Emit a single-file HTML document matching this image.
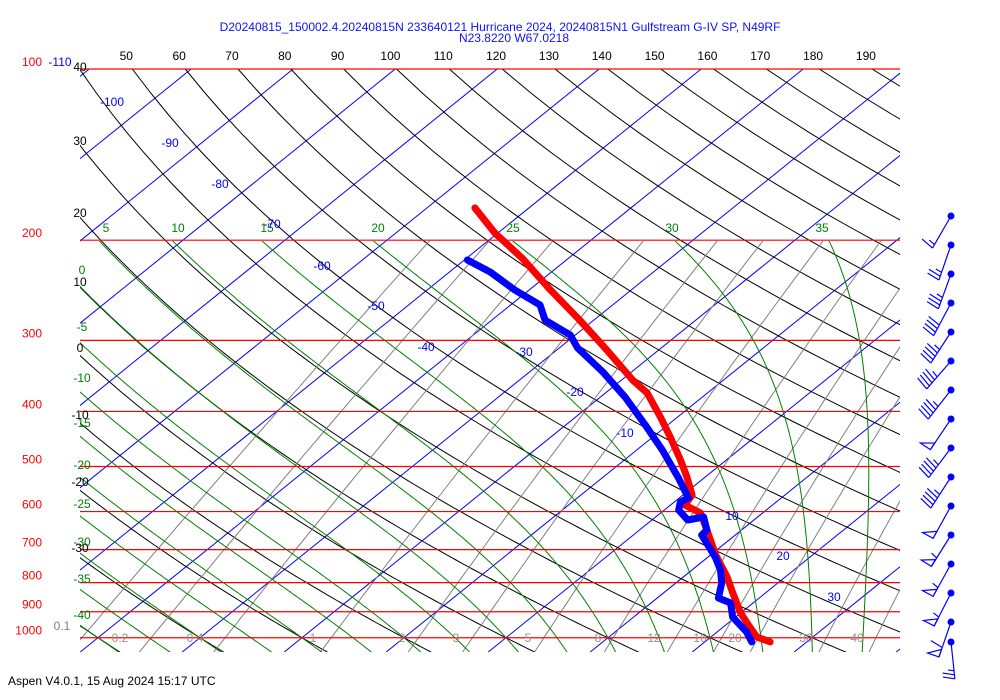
<!DOCTYPE html>
<html><head><meta charset="utf-8"><style>
html,body{margin:0;padding:0;background:#fff;}
svg{display:block;font-family:"Liberation Sans",sans-serif;font-size:12px;}
</style></head><body>
<svg id="chart" width="1000" height="700" viewBox="0 0 1000 700">
<defs><clipPath id="plotclip"><rect x="80" y="69" width="820" height="583"/></clipPath><clipPath id="upperclip"><rect x="80" y="241" width="820" height="411"/></clipPath></defs>
<text x="500" y="31" text-anchor="middle" fill="#1010ff">D20240815_150002.4.20240815N 233640121 Hurricane 2024, 20240815N1 Gulfstream G-IV SP, N49RF</text>
<text x="514" y="42" text-anchor="middle" fill="#1010ff">N23.8220 W67.0218</text>
<g id="grid" clip-path="url(#plotclip)"></g>
<g id="upper" clip-path="url(#upperclip)"></g>
<g id="plines"></g>
<g id="labels"></g>
<g id="traces" clip-path="url(#plotclip)"></g>
<g id="barbs"></g>
<text x="8" y="685" fill="#000">Aspen V4.0.1, 15 Aug 2024  15:17 UTC</text>
</svg>
<script>
// ---- data ----
const pressureLevels=[100,200,300,400,500,600,700,800,900,1000];
const isotherms=[-120,-110,-100,-90,-80,-70,-60,-50,-40,-30,-20,-10,0,10,20,30,40,50];
const dryThetas=[-40,-30,-20,-10,0,10,20,30,40,50,60,70,80,90,100,110,120,130,140,150,160,170,180,190,200,210];
const topThetaLabels=[50,60,70,80,90,100,110,120,130,140,150,160,170,180,190];
const moistThetaW=[-40,-35,-30,-25,-20,-15,-10,-5,0,5,10,15,20,25,30,35];
const mixRatios=[0.1,0.2,0.4,1,2,3,5,8,12,16,20,30,40];
const tempP=[175.5,194.2,214.9,244.7,276.3,311.9,352.3,371.3,409.1,443.7,486.9,521.6,561.1,584.3,603.4,646.4,715.3,782.0,834.4,904.7,957.5,997,1017];
const tempT=[-55.3,-50.3,-44.6,-37.9,-31.4,-25.1,-18.9,-15.9,-11.7,-8.3,-4.5,-1.8,0.9,1.4,3.9,6.6,10.5,14.3,16.8,20.0,22.6,24.5,26.4];
const dewP=[216.7,227.5,244.7,260,276.3,293.6,309.4,341.0,377.3,422.6,467.6,523.8,568.0,577.2,596.1,620.8,613.3,646.4,659.6,721.2,760.1,801.2,851.4,868.8,919.4,977.1,1017];
const dewT=[-49.7,-46.0,-41.4,-37.1,-34.8,-30.5,-28.2,-22.8,-17.6,-12.2,-7.5,-2.5,0.9,0.6,1.4,3.5,4.7,6.6,6.7,10.7,12.8,14.5,16.0,17.8,19.7,22.9,24.6];
const barbY=[216,245,274,303,332,361,390,419,448,477,506,535,564,593,622,642];
const barbAngle=[30,19,20,28,33,41,38,34,37,33,29,32,29,27,19,-6];
const barbSpeed=[15,25,35,40,45,45,45,50,45,45,50,55,55,55,60,25];

const NS="http://www.w3.org/2000/svg";
function Y(p){return 69+247*Math.log(p/100);}
function X(T,p){return 506+10.2*T+1.24*(637.7-Y(p));}
function mk(tag,attrs,parent){const e=document.createElementNS(NS,tag);for(const k in attrs)e.setAttribute(k,attrs[k]);parent.appendChild(e);return e;}
function pathFrom(pts){return pts.map((q,i)=>(i?'L':'M')+q[0].toFixed(1)+' '+q[1].toFixed(1)).join(' ');}
const grid=document.getElementById('grid'),upper=document.getElementById('upper');

// isotherms
isotherms.forEach(t=>{
 const e=mk('line',{x1:X(t,100),y1:Y(100),x2:X(t,1060),y2:Y(1060),stroke:'#0000ff','stroke-width':1},grid);
 
 
});
// dry adiabats
dryThetas.forEach(th=>{
 const pts=[];for(let p=100;p<=1060;p+=10){const T=(th+273.15)*Math.pow(p/1000,0.2857)-273.15;pts.push([X(T,p),Y(p)]);}
 const e=mk('path',{d:pathFrom(pts),fill:'none',stroke:'#000','stroke-width':1},grid);
 
 
});
// mixing ratio
mixRatios.forEach(w=>{
 const pts=[];for(let p=200;p<=1060;p+=20){const e=w*p/(622+w);const l=Math.log(e/6.112);const Td=243.5*l/(17.67-l);pts.push([X(Td,p),Y(p)]);}
 const e=mk('path',{d:pathFrom(pts),fill:'none',stroke:'#808080','stroke-width':1},upper);
 
 
});
// moist adiabats
function dTdp(T,p){const Tc=T-273.15;const es=6.112*Math.exp(17.67*Tc/(Tc+243.5));const rs=0.622*es/(p-es);
 return (287*T+2.5e6*rs)/(p*(1005+2.5e6*2.5e6*rs*0.622/(287*T*T)));}
moistThetaW.forEach(tw=>{
 const up=[];let T=tw+273.15;
 for(let p=1000;p>=195;p-=2){up.push([X(T-273.15,p),Y(p)]);const k1=dTdp(T,p);const k2=dTdp(T-k1,p-2);T-=k1+ (k2-k1)/2; T=T- (k1+k2)/2 + (k1+k2)/2; }
 // recompute properly with RK2
 const pts=[];T=tw+273.15;
 for(let p=1000;p>=198;p-=2){pts.push([X(T-273.15,p),Y(p)]);const k1=dTdp(T,p);const k2=dTdp(T-2*k1,p-2);T-=(k1+k2);}
 const down=[];T=tw+273.15;
 for(let p=1000;p<=1060;p+=2){const k1=dTdp(T,p);const k2=dTdp(T+2*k1,p+2);T+=(k1+k2);down.push([X(T-273.15,p+2),Y(p+2)]);}
 const all=pts.reverse().concat(down);
 const e=mk('path',{d:pathFrom(all),fill:'none',stroke:'#008000','stroke-width':1},upper);
 
 
});
// pressure lines
const pl=document.getElementById('plines'),lab=document.getElementById('labels');
pressureLevels.forEach(p=>{
 const e=mk('line',{x1:80,y1:Y(p),x2:900,y2:Y(p),stroke:'#ff0000','stroke-width':1.2},pl);
 
 
 const t=mk('text',{x:42,y:Y(p)-3,'text-anchor':'end',fill:'#ff0000'},lab);t.textContent=p;
 
 
});
function txt(s,x,y,c,anchor){const t=mk('text',{x:x,y:y+4,'text-anchor':anchor||'middle',fill:c},lab);t.textContent=s;
 
 return t;}
// top theta labels
topThetaLabels.forEach(th=>{const T=(th+273.15)*0.51795-273.15;txt(th,X(T,100)-6,56,'#000');});
// left dry labels
[[40,67],[30,141],[20,213],[10,282],[0,348],[-10,415],[-20,482],[-30,548]].forEach(a=>txt(a[0],80,a[1],'#000'));
// left moist labels
[[0,270],[-5,327],[-10,378],[-15,423],[-20,465],[-25,504],[-30,542],[-35,579],[-40,615]].forEach(a=>txt(a[0],82,a[1],'#008000'));
// moist labels at 200
[[5,106],[10,178],[15,267],[20,378],[25,513],[30,672],[35,822]].forEach(a=>txt(a[0],a[1],228,'#008000'));
// isotherm labels
[[-110,60,62],[-100,112,102],[-90,170,143],[-80,220,184],[-70,272,224],[-60,322,266],[-50,376,306],[-40,426,347],[-30,524,352],[-20,575,392],[-10,625,433],[0,686,474],[10,732,516],[20,783,556],[30,834,597]].forEach(a=>txt(a[0],a[1],a[2],'#0000ff'));
// mixing labels
txt('0.1',62,626,'#808080');
[[0.2,120],[0.4,195],[1,313],[2,402],[3,456],[5,528],[8,598],[12,654],[16,700],[20,735],[30,806],[40,857]].forEach(a=>txt(a[0],a[1],638,'#909090'));

// traces
const tr=document.getElementById('traces');
function trace(P,T,color,name){
 const pts=P.map((p,i)=>[X(T[i],p),Y(p)]);
 const e=mk('path',{d:pathFrom(pts),fill:'none',stroke:color,'stroke-width':7,'stroke-linecap':'round','stroke-linejoin':'round'},tr);
 
 
}
trace(tempP,tempT,'#ff0000','temperature-trace');
trace(dewP,dewT,'#0000ff','dewpoint-trace');

// wind barbs
const bg=document.getElementById('barbs');
barbY.forEach((y,i)=>{
 const a=barbAngle[i]*Math.PI/180,L=37,x0=951;
 const ux=-Math.sin(a),uy=Math.cos(a);
 const ex=x0+L*ux,ey=y+L*uy;
 const g=mk('g',{},bg);
 
 
 mk('circle',{cx:x0,cy:y,r:3.5,fill:'#0000ff'},g);
 mk('line',{x1:x0,y1:y,x2:ex,y2:ey,stroke:'#0000ff','stroke-width':1.2},g);
 // perpendicular (left side)
 const px=-uy,py=ux; // rotate
 let nx=px<0?px:-px, ny=px<0?py:-py;
 let s=barbSpeed[i],pos=0;
 while(s>=50){const b1x=ex-ux*pos,b1y=ey-uy*pos,b2x=ex-ux*(pos+8),b2y=ey-uy*(pos+8);
  mk('polygon',{points:`${b1x},${b1y} ${b1x+nx*12},${b1y+ny*12} ${b2x},${b2y}`,fill:'none',stroke:'#0000ff','stroke-width':1.2},g);s-=50;pos+=10;}
 while(s>=10){const bx=ex-ux*pos,by=ey-uy*pos;mk('line',{x1:bx,y1:by,x2:bx+nx*12,y2:by+ny*12-3,stroke:'#0000ff','stroke-width':1.2},g);s-=10;pos+=4;}
 if(s>=5){const bx=ex-ux*pos,by=ey-uy*pos;mk('line',{x1:bx,y1:by,x2:bx+nx*6,y2:by+ny*6-1.5,stroke:'#0000ff','stroke-width':1.2},g);}
});
</script>
</body></html>
